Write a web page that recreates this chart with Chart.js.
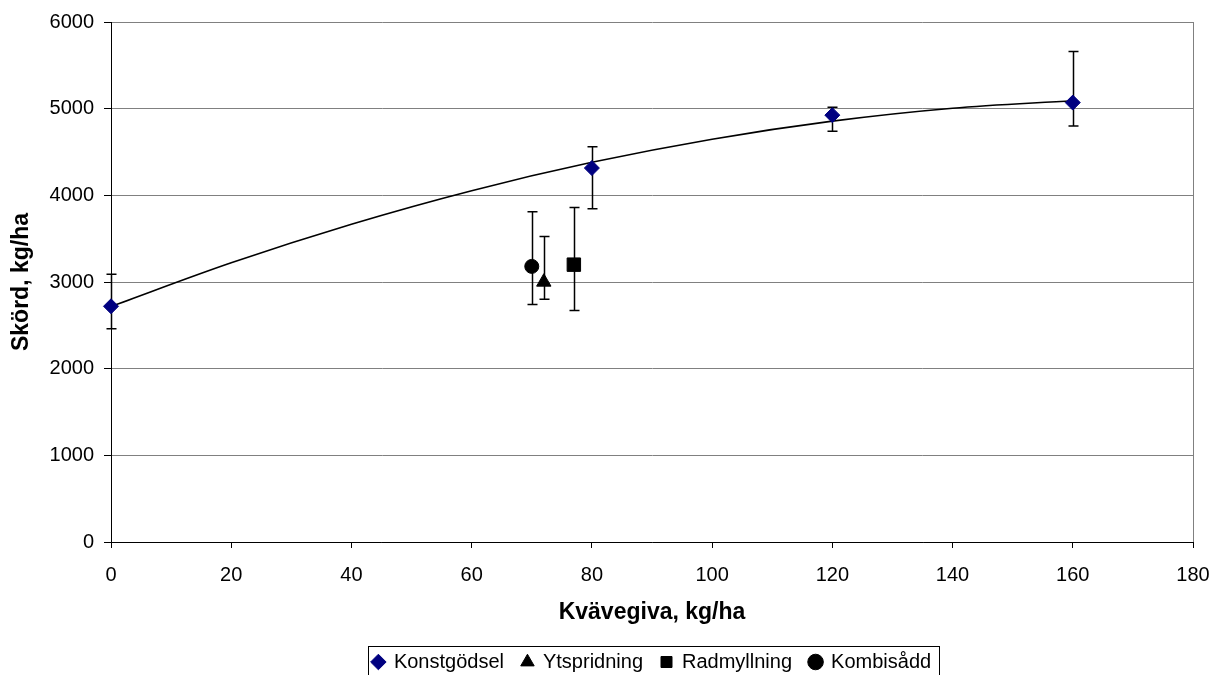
<!DOCTYPE html>
<html>

<head>
    <meta charset="utf-8">
    <script src="https://cdn.jsdelivr.net/npm/chart.js@4"></script>
    <style>
        html, body { margin: 0; padding: 0; background: #fff; }
    </style>
</head>

<body>
    <div style="width: 1228px; height: 675px;">
        <canvas id="wykres"></canvas>
    </div>
    <script>
        // avläsningar ur diagrammet
        const konstX = [0, 80, 120, 160];
        const konstY = [2720, 4315, 4925, 5070];
        const konstLow = [2460, 3845, 4740, 4800];
        const konstHigh = [3090, 4560, 5015, 5660];

        const ytsprX = [72];
        const ytsprY = [3000];
        const ytsprLow = [2800];
        const ytsprHigh = [3525];

        const radX = [77];
        const radY = [3200];
        const radLow = [2670];
        const radHigh = [3860];

        const kombiX = [70];
        const kombiY = [3180];
        const kombiLow = [2740];
        const kombiHigh = [3810];

        // trendlinjen avläst var 20:e kg
        const trendX = [0, 20, 40, 60, 80, 100, 120, 140, 160];
        const trendY = [2718, 3222, 3667, 4054, 4381, 4648, 4856, 5005, 5092];

        const xMin = 0, xMax = 180, xStep = 20;
        const yMin = 0, yMax = 6000, yStep = 1000;

        const font = "'Liberation Sans', Arial, sans-serif";

        function punkter(xs, ys) {
            return xs.map((x, i) => ({ x: x, y: ys[i] }));
        }

        const felstaplar = {
            id: "felstaplar",
            beforeDatasetsDraw(chart) {
                const ctx = chart.ctx;
                const xs = chart.scales.x, ys = chart.scales.y;
                ctx.save();
                ctx.strokeStyle = "#000";
                ctx.lineWidth = 1.5;
                chart.data.datasets.forEach(ds => {
                    if (!ds.errorBars) return;
                    ds.data.forEach((p, i) => {
                        const x = Math.round(xs.getPixelForValue(p.x)) + 0.5;
                        const y1 = ys.getPixelForValue(ds.errorBars.low[i]);
                        const y2 = ys.getPixelForValue(ds.errorBars.high[i]);
                        ctx.beginPath();
                        ctx.moveTo(x, y1); ctx.lineTo(x, y2);
                        ctx.moveTo(x - 5, y1); ctx.lineTo(x + 5, y1);
                        ctx.moveTo(x - 5, y2); ctx.lineTo(x + 5, y2);
                        ctx.stroke();
                    });
                });
                ctx.restore();
            }
        };

        // ram runt förklaringen
        const legendRam = {
            id: "legendRam",
            afterDraw(chart) {
                const lg = chart.legend;
                if (!lg || !lg.legendHitBoxes.length) return;
                const boxes = lg.legendHitBoxes;
                const first = boxes[0], last = boxes[boxes.length - 1];
                const left = Math.round(first.left - 5) + 0.5;
                const right = Math.round(last.left + last.width + 8) + 0.5;
                const mid = first.top + first.height / 2;
                const top = Math.round(mid - 16) + 0.5;
                const bottom = Math.round(mid + 15) + 0.5;
                const ctx = chart.ctx;
                ctx.save();
                ctx.strokeStyle = "#000";
                ctx.lineWidth = 1;
                ctx.strokeRect(left, top, right - left, bottom - top);
                ctx.restore();
            }
        };

        const dane = {
            datasets: [
                {
                    label: "Konstgödsel",
                    data: punkter(konstX, konstY),
                    errorBars: { low: konstLow, high: konstHigh },
                    pointStyle: "rectRot",
                    pointRadius: 7.5,
                    backgroundColor: "#000080",
                    borderColor: "#000080",
                    borderWidth: 1,
                    clip: false
                },
                {
                    label: "Ytspridning",
                    data: punkter(ytsprX, ytsprY),
                    errorBars: { low: ytsprLow, high: ytsprHigh },
                    pointStyle: "triangle",
                    pointRadius: 8.3,
                    backgroundColor: "#000",
                    borderColor: "#000",
                    borderWidth: 1,
                    clip: false
                },
                {
                    label: "Radmyllning",
                    data: punkter(radX, radY),
                    errorBars: { low: radLow, high: radHigh },
                    pointStyle: "rect",
                    pointRadius: 9.5,
                    backgroundColor: "#000",
                    borderColor: "#000",
                    borderWidth: 1,
                    clip: false
                },
                {
                    label: "Kombisådd",
                    data: punkter(kombiX, kombiY),
                    errorBars: { low: kombiLow, high: kombiHigh },
                    pointStyle: "circle",
                    pointRadius: 7,
                    backgroundColor: "#000",
                    borderColor: "#000",
                    borderWidth: 1,
                    clip: false
                },
                {
                    label: "trend",
                    data: punkter(trendX, trendY),
                    showLine: true,
                    pointRadius: 0,
                    borderColor: "#000",
                    borderWidth: 1.6,
                    cubicInterpolationMode: "monotone",
                    fill: false
                }
            ]
        };

        const ctx = document.getElementById("wykres").getContext("2d");
        const wykres = new Chart(ctx, {
            type: "scatter",
            data: dane,
            plugins: [felstaplar, legendRam],
            options: {
                responsive: true,
                maintainAspectRatio: false,
                animation: false,
                layout: { padding: { left: 0, right: 35, top: 21, bottom: -7 } },
                plugins: {
                    tooltip: { enabled: false },
                    legend: {
                        position: "bottom",
                        fullSize: false,
                        labels: {
                            usePointStyle: true,
                            boxHeight: 11,
                            boxWidth: 11,
                            padding: 18,
                            color: "#000",
                            font: { family: font, size: 20 },
                            filter: item => item.text !== "trend"
                        }
                    }
                },
                scales: {
                    x: {
                        type: "linear",
                        min: xMin,
                        max: xMax,
                        afterFit: s => { s.height = 92; },
                        ticks: {
                            stepSize: xStep,
                            color: "#000",
                            padding: 15,
                            maxRotation: 0,
                            font: { family: font, size: 20 }
                        },
                        grid: {
                            drawOnChartArea: true,
                            color: c => c.tick && c.tick.value === xMax ? "#808080" : "rgba(0,0,0,0)",
                            tickColor: "#000",
                            tickLength: 6,
                            lineWidth: 1
                        },
                        border: { color: "#000", width: 1 },
                        title: {
                            display: true,
                            text: "Kvävegiva, kg/ha",
                            color: "#000",
                            padding: { top: 4, bottom: 8 },
                            font: { family: font, size: 23, weight: "bold" }
                        }
                    },
                    y: {
                        min: yMin,
                        max: yMax,
                        afterFit: s => { s.width = 111; },
                        ticks: {
                            stepSize: yStep,
                            color: "#000",
                            padding: 10,
                            callback: v => String(v),
                            font: { family: font, size: 20 }
                        },
                        grid: {
                            color: "#808080",
                            tickColor: "#000",
                            tickLength: 7,
                            lineWidth: 1
                        },
                        border: { color: "#000", width: 1 },
                        title: {
                            display: true,
                            text: "Skörd, kg/ha",
                            color: "#000",
                            padding: { top: 8, bottom: 4 },
                            font: { family: font, size: 23, weight: "bold" }
                        }
                    }
                }
            }
        });
    </script>
</body>

</html>
